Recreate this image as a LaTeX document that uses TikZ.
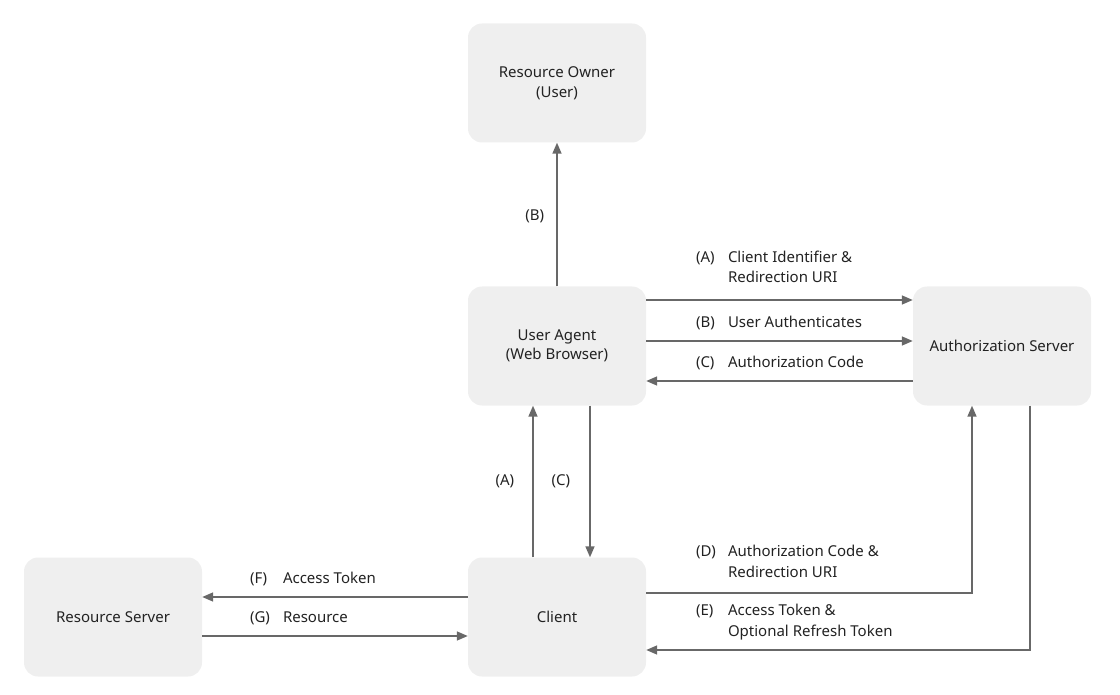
\documentclass[tikz,border=0pt]{standalone}
\usepackage{fontspec}
\setmainfont{Noto Sans}
\usetikzlibrary{arrows.meta}

\begin{document}
\begin{tikzpicture}[x=1pt,y=1pt,node distance=445pt]
            \tikzstyle{acteurs} = [rectangle, rounded corners=14pt,
            minimum width=178pt,
            minimum height=119pt,
            text centered,
            align=center,
            font=\fontsize{15}{19.5}\selectfont,
            text=txtgris,
            fill=fondgris]
            \definecolor{fondgris}{RGB}{239, 239, 239}
            \definecolor{flechegris}{RGB}{104, 104, 104}
            \definecolor{txtgris}{RGB}{34, 34, 34}
            \tikzstyle{fleche} = [line width=1.6pt,->,>={Triangle[length=11pt,width=9pt]},flechegris]
            \tikzstyle{etiq} = [inner sep=0pt,text=txtgris,font=\fontsize{15}{20.5}\selectfont]
            \useasboundingbox (0,0) rectangle (1120,-695);
            \node (acteur2)[acteurs] at (557,-346) {User Agent\\(Web Browser)};
            \node (acteur1)[acteurs, above of=acteur2, node distance=263pt] {Resource Owner\\(User)};
            \node (acteur3)[acteurs, right of=acteur2] {Authorization Server};
            \node (acteur4)[acteurs, below of=acteur2, node distance=271pt] {Client};
            \node (acteur5)[acteurs, left of=acteur4, node distance=444pt] {Resource Server};

            \draw [fleche] (acteur2) -- node[etiq, anchor=east, xshift=-12pt, yshift=-2pt] {(B)} (acteur1);
            \draw [fleche] ([yshift=46pt]acteur2.east) -- node[etiq, at start, anchor=base west, xshift=49pt, yshift=17pt] {\begin{tabular}[b]{@{}p{32pt}@{}l@{}}(A) & Client Identifier \&\\ & Redirection URI\end{tabular}} ([yshift=46pt]acteur3.west);
            \draw [fleche] ([yshift=5pt]acteur2.east) -- node[etiq, at start, anchor=base west, xshift=49pt, yshift=14pt] {\begin{tabular}[b]{@{}p{32pt}@{}l@{}}(B) & User Authenticates\end{tabular}} ([yshift=5pt]acteur3.west);
            \draw [fleche] ([yshift=-35pt]acteur3.west) -- node[etiq, at end, anchor=base west, xshift=49pt, yshift=14pt] {\begin{tabular}[b]{@{}p{32pt}@{}l@{}}(C) & Authorization Code\end{tabular}} ([yshift=-35pt]acteur2.east);
            \draw [fleche] ([xshift=-24pt]acteur4.north) -- node[etiq, anchor=east, xshift=-18pt] {(A)} ([xshift=-24pt]acteur2.south);
            \draw [fleche] ([xshift=33pt]acteur2.south) -- node[etiq, anchor=east, xshift=-19pt] {(C)} ([xshift=33pt]acteur4.north);
            \draw [fleche] ([yshift=24pt]acteur4.east) -| node[etiq, pos=0, anchor=base west, xshift=49pt, yshift=16pt] {\begin{tabular}[b]{@{}p{32pt}@{}l@{}}(D) & Authorization Code \&\\ & Redirection URI\end{tabular}} ([xshift=-30pt]acteur3.south);
            \draw [fleche] ([xshift=28pt]acteur3.south) |- node[etiq, pos=1, anchor=base west, xshift=49pt, yshift=14pt] {\begin{tabular}[b]{@{}p{32pt}@{}l@{}}(E) & Access Token \&\\ & Optional Refresh Token\end{tabular}} ([yshift=-33pt]acteur4.east);
            \draw [fleche] ([yshift=20pt]acteur4.west) -- node[etiq, at end, anchor=base west, xshift=47pt, yshift=14pt] {\begin{tabular}[b]{@{}p{33pt}@{}l@{}}(F) & Access Token\end{tabular}} ([yshift=20pt]acteur5.east);
            \draw [fleche] ([yshift=-19pt]acteur5.east) -- node[etiq, at start, anchor=base west, xshift=47pt, yshift=14pt] {\begin{tabular}[b]{@{}p{33pt}@{}l@{}}(G) & Resource\end{tabular}} ([yshift=-19pt]acteur4.west);
        \end{tikzpicture}
\end{document}
